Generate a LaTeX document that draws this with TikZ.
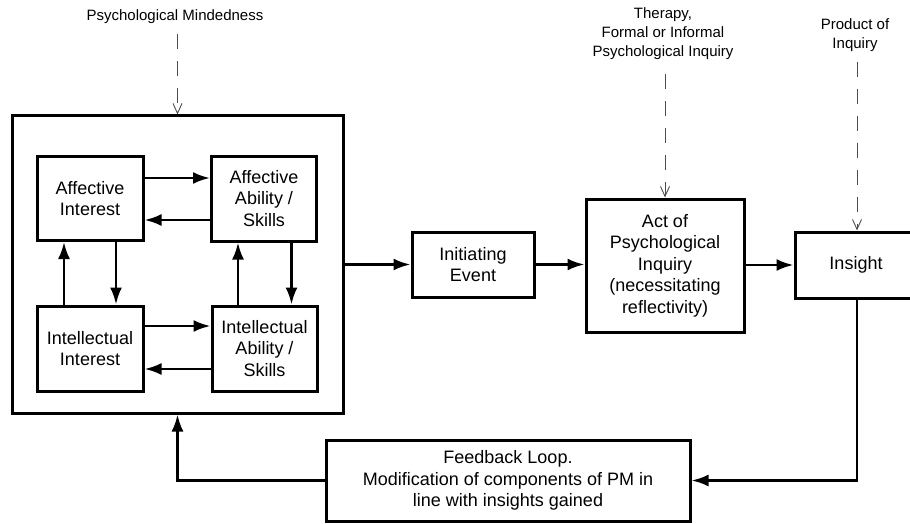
\documentclass[tikz,border=0pt]{standalone}
\usepackage{fontspec}
\setmainfont{Liberation Sans}
\usetikzlibrary{arrows.meta}
\newcommand\fsz[2]{\fontsize{#1}{#2}\selectfont}
\tikzset{
  blk/.style={draw, line width=3pt, inner sep=0pt, align=center, font=\fsz{18}{21.5}},
  lbl/.style={inner sep=0pt, align=center, font=\fsz{15}{19}},
  arr/.style={line width=2.6pt, -{Latex[length=17pt,width=12pt]}},
  dsh/.style={draw=black!70, line width=0.9pt, dash pattern=on 15pt off 12pt,
              -{Straight Barb[length=10pt,width=9pt,line width=0.9pt]}},
}
\begin{document}
\begin{tikzpicture}[x=1pt,y=-1pt]
\useasboundingbox (0,0) rectangle (910,524);

% psychological mindedness container and its four components
\node[blk, minimum width=331pt, minimum height=297pt] (outer) at (177.5,264.5) {};
\node[blk, minimum width=106pt, minimum height=84pt] (ai)  at (90,198.5)   {Affective\\Interest};
\node[blk, minimum width=105pt, minimum height=85pt] (aas) at (264,198.5)  {Affective\\Ability /\\Skills};
\node[blk, minimum width=106pt, minimum height=85pt] (ii)  at (90,348.5)   {Intellectual\\Interest};
\node[blk, minimum width=105pt, minimum height=85pt] (ias) at (264.5,348.5){Intellectual\\Ability /\\Skills};

% main sequence
\node[blk, minimum width=122pt, minimum height=65pt]  (init) at (473,264.5) {Initiating\\Event};
\node[blk, minimum width=158pt, minimum height=133pt] (act)  at (665,265.5) {Act of\\Psychological\\Inquiry\\(necessitating\\reflectivity)};
\node[blk, minimum width=124pt, minimum height=66pt]  (ins)  at (857,265)   {\hspace*{-2pt}Insight};
\node[blk, minimum width=364pt, minimum height=81pt] (fb) at (508,480.5)
  {Feedback Loop.\\Modification of components of PM in\\line with insights gained};

% external influences
\node[lbl] (pm)  at (175,17) {Psychological Mindedness};
\node[lbl] (thr) at (663,34) {Therapy,\\Formal or Informal\\Psychological Inquiry};
\node[lbl] (prd) at (855,35) {Product of\\Inquiry};

\draw[dsh, shorten <=10pt] (pm.south -| outer.north) -- (outer.north);
\draw[dsh, shorten <=14pt] (thr.south -| act.north) -- (act.north);
\draw[dsh, shorten <=10pt] (prd.south -| ins.north) -- (ins.north);

% links between the components
\draw[arr] ([yshift=20.5pt]ai.east) -- ([yshift=20.5pt]ai.east -| aas.west);
\draw[arr] ([yshift=-21.5pt]aas.west) -- ([yshift=-21.5pt]aas.west -| ai.east);
\draw[arr] ([xshift=26pt]ai.south) -- ([xshift=26pt]ai.south |- ii.north);
\draw[arr] ([xshift=-26pt]ii.north) -- ([xshift=-26pt]ii.north |- ai.south);
\draw[arr] ([xshift=-26.5pt]ias.north) -- ([xshift=-26.5pt]ias.north |- aas.south);
\draw[arr] ([xshift=27.5pt]aas.south) -- ([xshift=27.5pt]aas.south |- ias.north);
\draw[arr] ([yshift=22.5pt]ii.east) -- ([yshift=22.5pt]ii.east -| ias.west);
\draw[arr] ([yshift=-20.5pt]ias.west) -- ([yshift=-20.5pt]ias.west -| ii.east);

% flow through the process
\draw[arr] (outer.east) -- (init.west);
\draw[arr] (init.east) -- (init.east -| act.west);
\draw[arr] (act.east |- ins.west) -- (ins.west);
\draw[arr] (ins.south) |- (fb.east);
\draw[arr] (fb.west) -| (outer.south);
\end{tikzpicture}
\end{document}
